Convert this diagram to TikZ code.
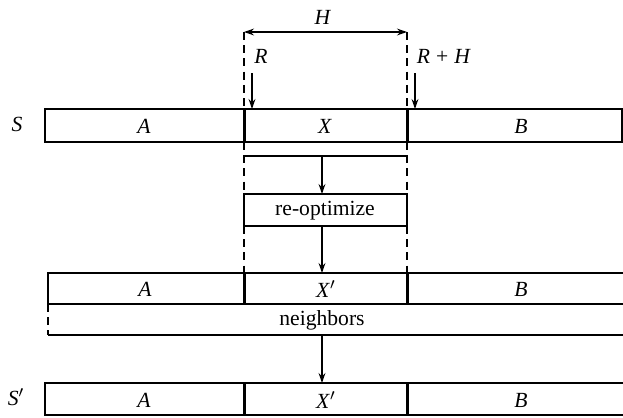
\documentclass[tikz,border=0pt]{standalone}
\usepackage{fontspec}
\setmainfont{Liberation Serif}
\usetikzlibrary{arrows.meta}
\begin{document}
\begin{tikzpicture}[x=0.5pt,y=-0.5pt,
  font=\fontsize{10.8}{13}\selectfont,
  row/.style={line width=1.1pt},
  divider/.style={line width=1.5pt},
  guide/.style={line width=0.9pt, dash pattern=on 4pt off 2.6pt},
  arr/.style={line width=0.95pt,-{Stealth[length=5pt,width=3.4pt]}},
  lbl/.style={inner sep=0pt}]
\useasboundingbox (0,0) rectangle (623,418);
% coordinates
\coordinate (Lt) at (244,32);  \coordinate (Rt) at (407,32);
\coordinate (Rs) at (252,73);  \coordinate (Re) at (252,109);
\coordinate (RHs) at (415,73); \coordinate (RHe) at (415,109);
\coordinate (Bt) at (322,156); \coordinate (Bb) at (322,194);
\coordinate (Ot) at (322,226); \coordinate (Ob) at (322,273);
\coordinate (Nt) at (322,335); \coordinate (Nb) at (322,383);
% row S
\draw[row] (45,109) rectangle (622,142);
\draw[divider] (244,109) -- (244,142);
\draw[divider] (407,109) -- (407,142);
% second row
\draw[row] (623,273) -- (48,273) -- (48,304) -- (623,304);
\draw[divider] (244,273) -- (244,304);
\draw[divider] (407,273) -- (407,304);
% neighbors
\draw[guide] (48,304) -- (48,335);
\draw[row] (48,335) -- (623,335);
% row S'
\draw[row] (623,383) -- (45,383) -- (45,415) -- (623,415);
\draw[divider] (244,383) -- (244,415);
\draw[divider] (407,383) -- (407,415);
% re-optimize box and bracket
\draw[row] (244,194) rectangle (407,226);
\draw[row] (244,156) -- (407,156);
% dashed guides
\draw[guide] (Lt) -- (244,109);
\draw[guide] (Rt) -- (407,109);
\draw[guide] (244,142) -- (244,194);
\draw[guide] (407,142) -- (407,194);
\draw[guide] (244,226) -- (244,273);
\draw[guide] (407,226) -- (407,273);
% arrows
\draw[line width=1.1pt,{Stealth[length=5pt,width=3.4pt]}-{Stealth[length=5pt,width=3.4pt]}] (Lt) -- (Rt);
\draw[arr] (Rs) -- (Re);
\draw[arr] (RHs) -- (RHe);
\draw[arr] (Bt) -- (Bb);
\draw[arr] (Ot) -- (Ob);
\draw[arr] (Nt) -- (Nb);
% labels
\node[lbl] (h) at (323,17) {\textit{H}};
\node[lbl] (r) at (261,56) {\textit{R}};
\node[lbl] (rh) at (444,56) {\textit{R}\hspace{0.28em}+\hspace{0.28em}\textit{H}};
\node[lbl] (s) at (17,124) {\textit{S}};
\node[lbl] (s2) at (16,397) {\textit{S}$'$};
\node[lbl] (a1) at (144,126) {\textit{A}};
\node[lbl] (x1) at (325,126) {\textit{X}};
\node[lbl] (b1) at (521,126) {\textit{B}};
\node[lbl] (opt) at (325,211) {re-optimize};
\node[lbl] (a2) at (145,289) {\textit{A}};
\node[lbl] (x2) at (326,289) {\textit{X}$'$};
\node[lbl] (b2) at (521,289) {\textit{B}};
\node[lbl] (nb) at (322,320) {neighbors};
\node[lbl] (a3) at (144,400) {\textit{A}};
\node[lbl] (x3) at (326,400) {\textit{X}$'$};
\node[lbl] (b3) at (521,400) {\textit{B}};
\end{tikzpicture}
\end{document}
